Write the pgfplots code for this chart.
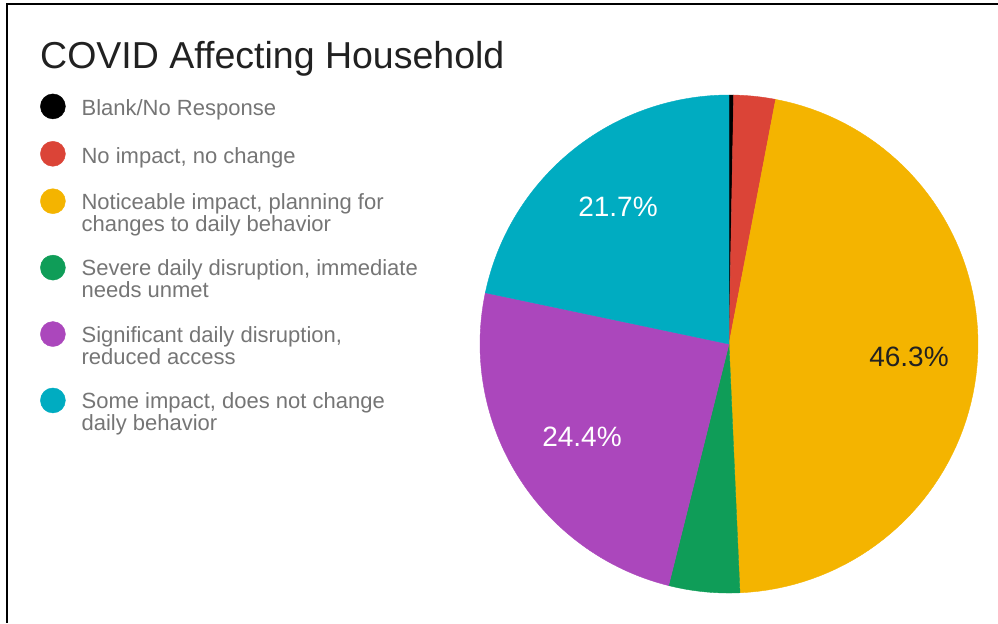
\documentclass[border=0pt]{standalone}
\usepackage{fontspec}
\setmainfont{Liberation Sans}
\usepackage{pgfplots}
\usepackage{pgfplotstable}
\pgfplotsset{compat=1.18}

\definecolor{blankcol}{HTML}{000000}
\definecolor{nocol}{HTML}{DB4437}
\definecolor{noticol}{HTML}{F4B400}
\definecolor{severecol}{HTML}{0F9D58}
\definecolor{signifcol}{HTML}{AB47BC}
\definecolor{somecol}{HTML}{00ACC1}
\definecolor{legtext}{HTML}{757575}
\definecolor{titletext}{HTML}{212121}

% share of answers in percent, clockwise from 12 o'clock
\pgfplotstableread{
share color
0.3   blankcol
2.7   nocol
46.3  noticol
4.6   severecol
24.4  signifcol
21.7  somecol
}\piedata

% legend dot; #2 lifts it onto the first text line
\newcommand\legdot[2]{\addlegendimage{legend image code/.code={%
  \fill[#1] (0bp,#2) circle (12.5bp);}}}

\begin{document}
\begin{tikzpicture}
\begin{axis}[
  width=998bp, height=623bp, scale only axis,
  xmin=0, xmax=998, ymin=0, ymax=623, y dir=reverse,
  hide axis, clip=false,
  legend style={at={(axis cs:40,93.5)}, anchor=north west, draw=none, fill=none,
    inner sep=0pt, font=\fontsize{22bp}{22bp}\selectfont, text=legtext,
    row sep=22bp, column sep=16bp,
    nodes={inner sep=0bp, align=left}},
  legend cell align=left,
]
\coordinate (bl) at (axis cs:0,623);
\coordinate (tr) at (axis cs:998,0);
\pgfmathsetmacro\cum{0}
\pgfplotsforeachungrouped \i in {0,...,5}{
  \pgfplotstablegetelem{\i}{share}\of\piedata \let\sh\pgfplotsretval
  \pgfplotstablegetelem{\i}{color}\of\piedata \let\col\pgfplotsretval
  \pgfmathsetmacro\a{\cum*3.6}
  \pgfmathsetmacro\b{(\cum+\sh)*3.6}
  \edef\temp{\noexpand\addplot[forget plot, fill=\col, draw=\col, line width=0.4bp,
      domain=\a:\b, samples=80]
    ({729+249*sin(x)},{344-249*cos(x)}) -- (axis cs:729,344) -- cycle;}
  \temp
  \pgfmathsetmacro\cum{\cum+\sh}
}
\legdot{blankcol}{2bp}
\legdot{nocol}{2bp}
\legdot{noticol}{12bp}
\legdot{severecol}{12bp}
\legdot{signifcol}{12bp}
\legdot{somecol}{12bp}
\legend{Blank/No Response\strut,
  {No impact, no change\strut},
  {Noticeable impact, planning for\\changes to daily behavior\strut},
  {Severe daily disruption, immediate\\needs unmet\strut},
  {Significant daily disruption,\\reduced access\strut},
  {Some impact, does not change\\daily behavior\strut}}

\node[anchor=base west, text=titletext, inner sep=0pt,
  font=\fontsize{37.5bp}{40bp}\selectfont] at (axis cs:40,68) {COVID Affecting Household};

\node[anchor=base, text=titletext, inner sep=0pt, font=\fontsize{28bp}{30bp}\selectfont]
  at (axis cs:909,366) {46.3\%};
\node[anchor=base, text=white, inner sep=0pt, font=\fontsize{28bp}{30bp}\selectfont]
  at (axis cs:582,446) {24.4\%};
\node[anchor=base, text=white, inner sep=0pt, font=\fontsize{28bp}{30bp}\selectfont]
  at (axis cs:618,216) {21.7\%};

\draw[line width=2bp] (axis cs:7,4) -- (axis cs:7,623);
\draw[line width=1.5bp] (axis cs:6,4) -- (axis cs:998,4);
\end{axis}
\pgfresetboundingbox
\useasboundingbox (bl) rectangle (tr);
\end{tikzpicture}
\end{document}
